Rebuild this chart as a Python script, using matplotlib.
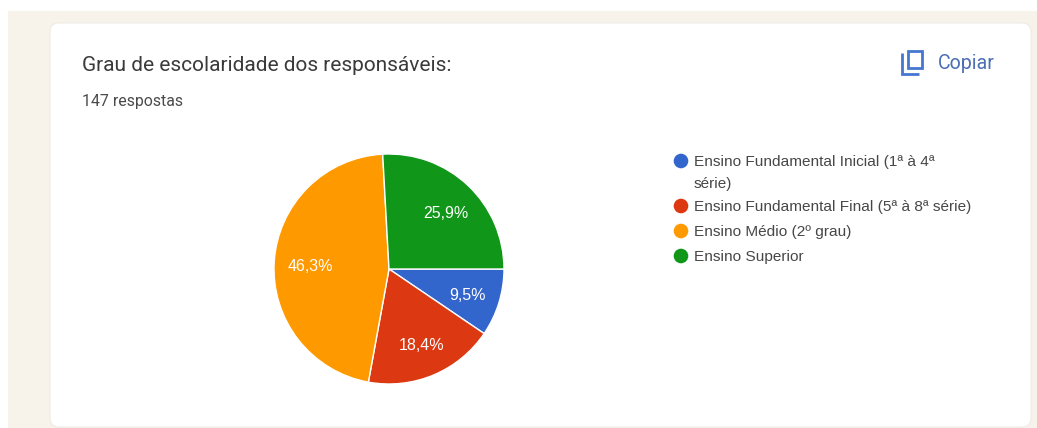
import matplotlib.pyplot as plt
from matplotlib.patches import FancyBboxPatch, Rectangle, Circle

plt.rcParams['font.family'] = ['Roboto', 'DejaVu Sans']

W, H = 1037, 428

title = 'Grau de escolaridade dos responsáveis:'
subtitle = '147 respostas'
button = 'Copiar'
categories = ['Ensino Fundamental Inicial (1ª à 4ª\nsérie)',
              'Ensino Fundamental Final (5ª à 8ª série)',
              'Ensino Médio (2º grau)',
              'Ensino Superior']
percent = [9.5, 18.4, 46.3, 25.9]
colors = ['#3366cc', '#dc3912', '#ff9900', '#109618']


def pct_label(p):
    return f'{p:.1f}'.replace('.', ',') + '%'


fig = plt.figure(figsize=(W / 100, H / 100), dpi=100)

# page and card, in pixel coordinates
bg = fig.add_axes([0, 0, 1, 1])
bg.set_xlim(0, W)
bg.set_ylim(H, 0)
bg.axis('off')
bg.add_patch(Rectangle((8, 11), W - 8, H - 11, fc='#f7f2ea', ec='none'))
bg.add_patch(FancyBboxPatch((58, 31), 965, 388,
                            boxstyle='round,pad=8,rounding_size=9',
                            fc='white', ec='#eeece6', lw=0.8))

bg.text(82, 65, title, fontsize=15, color='#3a3a3a', va='center')
bg.text(82, 101, subtitle, fontsize=11.4, color='#4a4a4a', va='center')

# copy icon and button
blue = '#4577cf'
bg.plot([902, 902, 919], [53, 73.5, 73.5], color=blue, lw=2, solid_capstyle='butt',
        solid_joinstyle='miter')
bg.add_patch(Rectangle((907.5, 50.5), 14, 17.5, fc='none', ec=blue, lw=2))
bg.text(938, 63, button, fontsize=14.1, color='#4c6fb3', va='center')

# legend
legend_y = [161, 206, 231, 256]
for name, col, y in zip(categories, colors, legend_y):
    bg.add_patch(Circle((681, y), 7.3, fc=col, ec='none'))
    lines = name.split('\n')
    for i, line in enumerate(lines):
        bg.text(694, y + 1 + i * 22, line, fontsize=11.1, color='#474747', va='center',
                family='Liberation Sans')

# pie, starts at 3 o'clock and runs clockwise
cx, cy, r = 389, 269, 115
ax = fig.add_axes([(cx - r) / W, 1 - (cy + r) / H, 2 * r / W, 2 * r / H])
wedges, texts, autotexts = ax.pie(percent, colors=colors, startangle=0, counterclock=False,
                                  radius=1, autopct=pct_label, pctdistance=0.7,
                                  wedgeprops={'edgecolor': 'white', 'linewidth': 1.0},
                                  textprops={'color': 'white', 'fontsize': 11.5,
                                             'family': 'Liberation Sans'})
# nudge the percentages a little down and right inside their slices
for t in autotexts:
    x, y = t.get_position()
    t.set_position((x + 1.5 / r, y - 2.5 / r))
ax.set_xlim(-1, 1)
ax.set_ylim(-1, 1)

fig.savefig('out.png', dpi=100)
